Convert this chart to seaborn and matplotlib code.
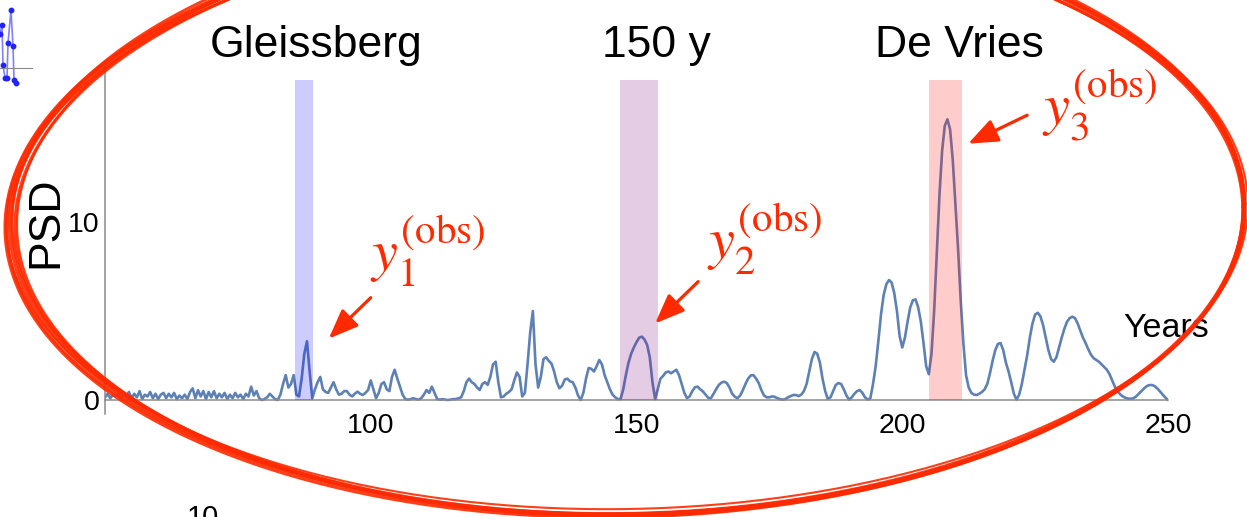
import numpy as np
import pandas as pd
import matplotlib
matplotlib.use("Agg")
import matplotlib.pyplot as plt
import seaborn as sns

# ---------------------------------------------------------------- data
# power spectral density sampled every half year, 50 .. 250 years
years = np.arange(50.0, 250.5, 0.5)
psd = [
    # 50 - 59.5
    0.15, 0.35, 0.10, 0.30, 0.20, 0.40, 0.05, 0.30, 0.25, 0.45,
    0.10, 0.35, 0.15, 0.50, 0.05, 0.30, 0.20, 0.45, 0.10, 0.35,
    # 60 - 69.5
    0.05, 0.30, 0.40, 0.10, 0.35, 0.15, 0.40, 0.05, 0.25, 0.10,
    0.30, 0.05, 0.45, 0.65, 0.10, 0.55, 0.20, 0.50, 0.05, 0.45,
    # 70 - 79.5
    0.15, 0.50, 0.10, 0.35, 0.15, 0.40, 0.05, 0.30, 0.10, 0.40,
    0.15, 0.30, 0.05, 0.35, 0.20, 0.75, 0.25, 0.50, 0.10, 0.00,
    # 80 - 89.5
    0.05, 0.15, 0.35, 0.20, 0.05, 0.00, 0.30, 0.90, 1.40, 0.70,
    0.90, 1.40, 0.30, 0.20, 1.20, 2.60, 3.30, 1.60, 0.10, 0.60,
    # 90 - 99.5
    1.00, 1.30, 0.60, 0.45, 0.40, 0.70, 1.00, 0.60, 0.30, 0.35,
    0.50, 0.50, 0.30, 0.20, 0.35, 0.47, 0.35, 0.28, 0.40, 0.56,
    # 100 - 109.5
    1.10, 0.60, 0.10, 0.40, 0.90, 1.00, 0.60, 0.50, 1.30, 1.70,
    1.20, 0.75, 0.30, 0.05, 0.02, 0.05, 0.10, 0.05, 0.02, 0.10,
    # 110 - 119.5
    0.30, 0.56, 0.40, 0.75, 0.40, 0.05, 0.02, 0.05, 0.02, 0.00,
    0.02, 0.05, 0.05, 0.10, 0.15, 0.50, 1.00, 1.20, 1.00, 0.90,
    # 120 - 129.5
    0.70, 0.56, 0.90, 1.00, 0.85, 1.30, 2.00, 2.15, 1.00, 0.15,
    0.20, 0.35, 0.45, 0.60, 1.10, 1.55, 1.30, 0.20, 0.40, 2.00,
    # 130 - 139.5
    3.80, 5.00, 2.00, 0.70, 1.30, 2.30, 2.40, 2.20, 2.05, 1.60,
    1.00, 0.66, 0.80, 1.15, 1.20, 1.05, 1.00, 0.70, 0.25, 0.00,
    # 140 - 149.5
    0.40, 1.20, 1.80, 1.75, 1.60, 1.90, 2.25, 2.00, 1.40, 1.00,
    0.60, 0.30, 0.15, 0.05, 0.05, 0.60, 1.40, 2.10, 2.60, 2.95,
    # 150 - 159.5
    3.25, 3.50, 3.56, 3.40, 3.10, 2.40, 1.00, 0.05, 0.60, 1.20,
    1.35, 1.55, 1.60, 1.50, 1.60, 1.70, 1.40, 0.90, 0.40, 0.10,
    # 160 - 169.5
    0.20, 0.50, 0.72, 0.75, 0.60, 0.48, 0.30, 0.12, 0.10, 0.35,
    0.62, 0.85, 0.98, 1.03, 0.95, 0.70, 0.35, 0.18, 0.10, 0.25,
    # 170 - 179.5
    0.55, 0.90, 1.20, 1.38, 1.40, 1.20, 0.95, 0.55, 0.25, 0.15,
    0.15, 0.20, 0.18, 0.10, 0.05, 0.02, 0.05, 0.15, 0.22, 0.28,
    # 180 - 189.5
    0.28, 0.22, 0.30, 0.50, 0.90, 1.60, 2.30, 2.70, 2.60, 2.10,
    1.20, 0.50, 0.05, 0.15, 0.50, 0.85, 0.95, 0.90, 0.60, 0.25,
    # 190 - 199.5
    0.02, 0.15, 0.35, 0.50, 0.56, 0.40, 0.15, 0.02, 0.10, 0.90,
    1.90, 3.30, 4.80, 5.90, 6.50, 6.74, 6.60, 6.00, 5.00, 3.60,
    # 200 - 209.5
    2.95, 3.50, 4.40, 5.20, 5.60, 5.65, 5.20, 4.40, 3.20, 1.90,
    1.45, 2.60, 5.00, 8.30, 11.50, 14.00, 15.40, 15.77, 15.20, 13.50,
    # 210 - 219.5
    11.00, 8.50, 5.60, 3.20, 1.40, 0.70, 0.40, 0.30, 0.28, 0.35,
    0.45, 0.60, 0.90, 1.50, 2.20, 2.80, 3.15, 3.20, 2.80, 2.10,
    # 220 - 229.5
    1.60, 1.00, 0.35, 0.02, 0.30, 0.90, 1.70, 2.50, 3.50, 4.30,
    4.80, 4.90, 4.70, 4.20, 3.50, 2.80, 2.30, 2.15, 2.40, 2.95,
    # 230 - 239.5
    3.50, 4.00, 4.40, 4.60, 4.68, 4.60, 4.30, 3.90, 3.50, 3.20,
    2.85, 2.55, 2.35, 2.25, 2.15, 2.00, 1.85, 1.70, 1.45, 1.10,
    # 240 - 249.5
    0.75, 0.50, 0.32, 0.20, 0.12, 0.08, 0.07, 0.10, 0.20, 0.35,
    0.50, 0.65, 0.78, 0.84, 0.84, 0.78, 0.65, 0.48, 0.30, 0.14,
    # 250
    0.00,
]

# highlighted period bands
band_names = ["Gleissberg", "150 y", "De Vries"]
band_start = [85.7, 146.9, 205.0]
band_end = [89.1, 154.1, 211.2]
band_top = 18.0
band_colors = ["blue", "purple", "red"]
band_label_x = [89.7, 153.7, 210.7]

# observed peak annotations
obs_labels = [r"$y_1^{(\mathrm{obs})}$", r"$y_2^{(\mathrm{obs})}$", r"$y_3^{(\mathrm{obs})}$"]
obs_label_pos = [(99.8, 7.25), (163.3, 7.9), (226.2, 15.45)]
obs_arrow_tail = [(100.0, 5.75), (161.6, 6.65), (223.5, 16.0)]
obs_arrow_tip = [(92.1, 3.45), (153.5, 4.3), (212.4, 14.4)]

# neighbouring panel fragment in the top-left corner
frag_x = [0, 2, 3, 5, 7, 8, 11, 13, 14, 16]
frag_y = [3.4, 4.3, 0.3, -1.0, -1.0, 2.5, 5.8, 2.2, -1.2, -1.5]

x_major = [100, 150, 200, 250]
x_minor = [60, 70, 80, 90, 110, 120, 130, 140, 160, 170, 180, 190,
           210, 220, 230, 240]
y_major = [0, 10]
y_minor = [5, 15]

# ---------------------------------------------------------------- style
sns.set_style("white")
plt.rcParams["font.family"] = ["Liberation Sans", "DejaVu Sans"]
plt.rcParams["mathtext.fontset"] = "stix"
plt.rcParams["text.color"] = "black"
plt.rcParams["axes.labelcolor"] = "black"

W, H = 1247, 517
fig = plt.figure(figsize=(W / 100, H / 100), dpi=100)
fig.patch.set_facecolor("white")

LINE = "#5E81B5"
AXIS = "#8a8a8a"
RED = "#ff2a00"

# main axes: x 50..250, y -0.8..19
ylo, yhi = -0.8, 19.0
px_per_y = 17.8
y_bottom_px = 400 + (-ylo) * px_per_y
y_top_px = 400 - yhi * px_per_y
ax = fig.add_axes([105 / W, 1 - y_bottom_px / H, 1063 / W,
                   (y_bottom_px - y_top_px) / H])
ax.set_facecolor("none")

df = pd.DataFrame({"Years": years, "PSD": psd})
sns.lineplot(data=df, x="Years", y="PSD", ax=ax, color=LINE, lw=1.9,
             estimator=None, zorder=2, legend=False)

for x0, x1, c in zip(band_start, band_end, band_colors):
    ax.fill_between([x0, x1], 0, band_top, color=c, alpha=0.2, lw=0, zorder=3)

ax.set_xlim(50, 250)
ax.set_ylim(ylo, yhi)
ax.set_xlabel("")
ax.set_ylabel("")

for s in ("top", "right"):
    ax.spines[s].set_visible(False)
ax.spines["bottom"].set_position(("data", 0))
for s in ("left", "bottom"):
    ax.spines[s].set_color(AXIS)
    ax.spines[s].set_linewidth(1.1)

ax.set_xticks(x_major)
ax.set_xticks(x_minor, minor=True)
ax.set_yticks(y_major)
ax.set_yticks(y_minor, minor=True)
ax.tick_params(axis="both", which="major", direction="in", length=15,
               width=1.0, color=AXIS, labelsize=20.5, labelcolor="black")
ax.tick_params(axis="both", which="minor", direction="in", length=7.5,
               width=1.0, color=AXIS)
ax.tick_params(axis="x", which="major", pad=9.5)
ax.tick_params(axis="y", which="major", pad=4)
ax.grid(False)

# band titles
for name, xl in zip(band_names, band_label_x):
    ax.text(xl, 19.27, name, fontsize=32, ha="center", va="baseline",
            color="black", clip_on=False)

# axis titles
ax.text(38.9, 10.0, "PSD", fontsize=32, rotation=90, ha="center",
        va="center", color="black", clip_on=False)
ax.text(241.5, 3.54, "Years", fontsize=24.5, ha="left", va="baseline",
        color="black", clip_on=False)

# observed-peak labels and arrows
for lab, (lx, ly), tail, tip in zip(obs_labels, obs_label_pos,
                                    obs_arrow_tail, obs_arrow_tip):
    ax.text(lx, ly, lab, fontsize=42, color=RED, ha="left", va="baseline",
            clip_on=False, zorder=6)
    ax.annotate("", xy=tip, xytext=tail, annotation_clip=False,
                arrowprops=dict(arrowstyle="-|>,head_length=1.0,head_width=0.4",
                                mutation_scale=18, color=RED, lw=2.3,
                                shrinkA=0, shrinkB=0), zorder=6)

# ---------------------------------------------------------------- fragment
ins = fig.add_axes([0, 1 - 90 / H, 35 / W, 90 / H], zorder=4)
ins.set_facecolor("none")
ins.plot(frag_x, frag_y, color="#8080ff", lw=1.2, marker="o", ms=3.2,
         mfc="#2222ff", mec="#2222ff", clip_on=False)
ins.set_xlim(0, 35)
ins.set_ylim(-2.2, 6.8)
for s in ("top", "right", "left"):
    ins.spines[s].set_visible(False)
ins.spines["bottom"].set_position(("data", 0))
ins.spines["bottom"].set_bounds(0, 32)
ins.spines["bottom"].set_color(AXIS)
ins.set_xticks([24])
ins.set_yticks([])
ins.tick_params(axis="x", direction="in", length=6, color="#333333",
                labelbottom=False)

# ---------------------------------------------------------------- overlay
ov = fig.add_axes([0, 0, 1, 1], zorder=10)
ov.set_xlim(0, W)
ov.set_ylim(H, 0)
ov.axis("off")

# cut-off tick label of the panel below
ov.text(203, 526, "10", fontsize=21, ha="center", va="baseline",
        color="black", clip_on=False)

# hand-drawn red ring, several overlapping strokes
t = np.linspace(0, 2 * np.pi, 600)
cx, cy, a, b, phi = 627.0, 216.0, 617.0, 298.0, -0.02
strokes = [
    (0, 0, 0, 0, 0.000, 3.0),
    (2, 2, -3, -2, 0.002, 2.4),
    (-2, 1, 3, 2, -0.002, 2.4),
    (1, -2, -1, 4, 0.003, 2.0),
    (-1, 3, 2, -3, -0.001, 2.0),
    (3, 0, -4, 1, 0.001, 1.5),
    (0, -1, 4, -4, 0.000, 1.5),
]
for dcx, dcy, da, db, dphi, lw in strokes:
    A, B, P = a + da, b + db, phi + dphi
    xs = cx + dcx + A * np.cos(t) * np.cos(P) - B * np.sin(t) * np.sin(P)
    ys = cy + dcy + A * np.cos(t) * np.sin(P) + B * np.sin(t) * np.cos(P)
    ov.plot(xs, ys, color=RED, lw=lw, alpha=0.9, solid_capstyle="round")

fig.savefig("out.png", dpi=100, facecolor="white")
